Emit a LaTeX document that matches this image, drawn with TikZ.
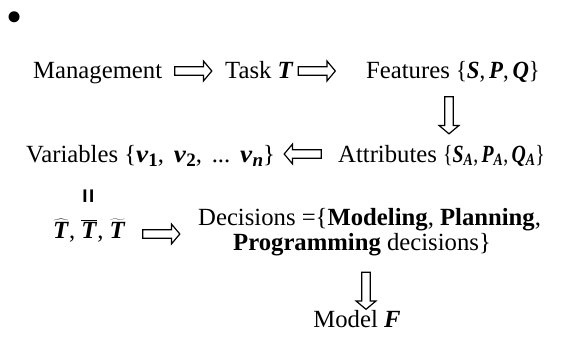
\documentclass[tikz,border=0pt]{standalone}
\usepackage{fontspec}
\setmainfont{Liberation Serif}
\setsansfont{Liberation Sans}
\usetikzlibrary{shapes.arrows}
\newcommand{\bi}[1]{\textbf{\textit{#1}}}
\newcommand{\bsub}[1]{\textsubscript{#1}}
\newcommand{\bigsub}[1]{\raisebox{-0.2em}{\fontsize{19}{19}\selectfont #1}}
\newcommand{\sqz}[2]{\scalebox{#1}[1]{#2}}
\begin{document}
\begin{tikzpicture}[x=1pt,y=-1pt,
  lbl/.style={anchor=base west, inner sep=0pt, font=\fontsize{24.7}{25}\selectfont},
  fat/.style={single arrow, draw=black, line width=1.2pt, minimum height=37pt,
    minimum width=20pt, inner sep=3.6pt, single arrow head extend=5.5pt,
    single arrow tip angle=100}]
\useasboundingbox (0,0) rectangle (572,337);
\node[lbl, font=\fontsize{46}{46}\selectfont] (bullet) at (6.6,33) {•};
% row 1
\node[lbl] (mgmt) at (33,78) {Management};
\node[lbl] (task) at (225,78) {Task \bi{T}};
\node[lbl] (feat) at (366,78) {Features \sqz{0.92}{\{\bi{S},\,\bi{P},\,\bi{Q}\}}};
\node[fat] (a1) at (191.5,71) {};
\node[fat] (a2) at (315,71) {};
\node[fat, rotate=-90] (a3) at (449,113.5) {};
% row 2
\node[lbl] (vars) at (26,162) {Variables \{\sqz{1.1}{\bi{v}}\bigsub{\textbf{1}},\hspace{0.4em}\sqz{1.1}{\bi{v}}\bigsub{\textbf{2}},\hspace{0.4em}...\hspace{0.4em}\sqz{1.1}{\bi{v}}\bigsub{\bi{n}}\}};
\node[lbl] (attr) at (338,162) {Attributes \sqz{0.8}{\{\bi{S}\bsub{\bi{A}},\,\bi{P}\bsub{\bi{A}},\,\bi{Q}\bsub{\bi{A}}\}}};
\node[fat, rotate=180] (a4) at (304.5,154) {};
\node[inner sep=0pt, rotate=90, font=\sffamily\bfseries\fontsize{25}{25}\selectfont] (eq) at (90,196) {=};
% row 3
\node[lbl] (tees) at (53,238) {$\widehat{\hbox{\bi{T}}}$, $\overline{\hbox{\bi{T}}}$, $\widetilde{\hbox{\bi{T}}}$};
\node[fat] (a5) at (159.5,234) {};
\node[lbl, align=left] (dec) at (198,250) {Decisions =\{\textbf{Modeling}, \textbf{Planning},\\\hspace*{35pt}\textbf{Programming} decisions\}};
\node[fat, rotate=-90] (a6) at (366,289) {};
\node[lbl, anchor=base] (model) at (357,327) {Model \bi{F}};
\end{tikzpicture}
\end{document}
